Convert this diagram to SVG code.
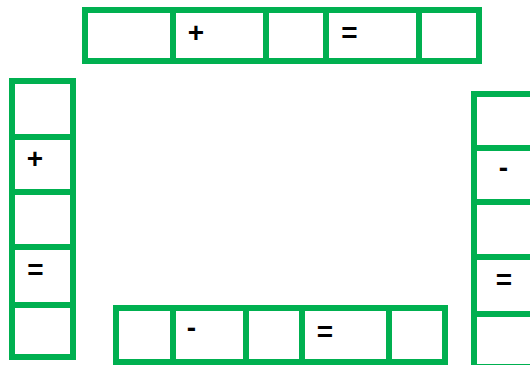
<svg xmlns="http://www.w3.org/2000/svg" width="530" height="365" viewBox="0 0 530 365">
<style>
.c{fill:#fff;stroke:#00B050;stroke-width:6}
.t{font-family:"Liberation Sans",Arial,sans-serif;font-weight:bold;font-size:28px;fill:#000;text-anchor:middle}
</style>
<rect width="530" height="365" fill="#fff"/>
<g id="top-strip">
<rect class="c" x="85" y="10" width="88" height="51"/>
<rect class="c" x="173" y="10" width="93" height="51"/>
<rect class="c" x="266" y="10" width="60" height="51"/>
<rect class="c" x="326" y="10" width="93" height="51"/>
<rect class="c" x="419" y="10" width="60" height="51"/>
<text class="t" x="196" y="41.5">+</text>
<text class="t" x="349.5" y="41.5">=</text>
</g>
<g id="left-strip">
<rect class="c" x="12" y="81" width="61" height="56"/>
<rect class="c" x="12" y="137" width="61" height="55"/>
<rect class="c" x="12" y="192" width="61" height="55"/>
<rect class="c" x="12" y="247" width="61" height="58"/>
<rect class="c" x="12" y="305" width="61" height="52"/>
<text class="t" x="35" y="167.5">+</text>
<text class="t" x="35.5" y="279">=</text>
</g>
<g id="right-strip">
<rect class="c" x="474" y="94" width="61" height="54"/>
<rect class="c" x="474" y="148" width="61" height="54"/>
<rect class="c" x="474" y="202" width="61" height="55"/>
<rect class="c" x="474" y="257" width="61" height="57"/>
<rect class="c" x="474" y="314" width="61" height="53"/>
<text class="t" x="503.5" y="177">-</text>
<text class="t" x="504" y="288.5">=</text>
</g>
<g id="bottom-strip">
<rect class="c" x="116" y="308" width="57" height="54"/>
<rect class="c" x="173" y="308" width="73" height="54"/>
<rect class="c" x="246" y="308" width="56" height="54"/>
<rect class="c" x="302" y="308" width="87" height="54"/>
<rect class="c" x="389" y="308" width="56" height="54"/>
<text class="t" x="191.5" y="336.5">-</text>
<text class="t" x="325" y="340.5">=</text>
</g>
<g id="connectors"/>
</svg>
